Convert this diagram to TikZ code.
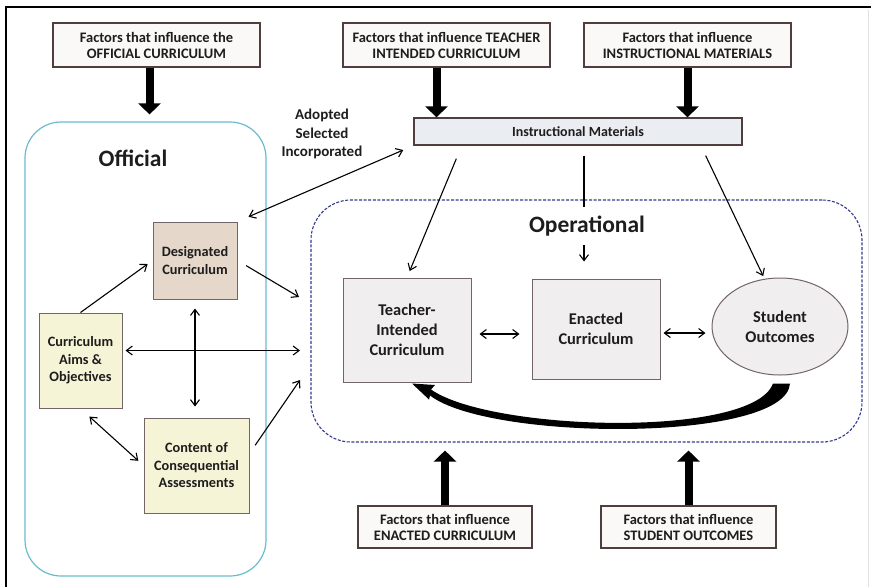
\documentclass[tikz,border=0pt]{standalone}
\usepackage{fontspec}
\setmainfont{Carlito}
\usetikzlibrary{arrows.meta,shapes.geometric,calc}
\definecolor{boxline}{RGB}{80,62,62}
\definecolor{tealline}{RGB}{105,188,204}
\definecolor{navydash}{RGB}{50,58,140}
\definecolor{desigfill}{RGB}{229,216,203}
\definecolor{aimsfill}{RGB}{246,244,215}
\definecolor{opfill}{RGB}{240,238,238}
\definecolor{imfill}{RGB}{234,238,242}
\definecolor{factorfill}{RGB}{250,249,247}
\definecolor{inktext}{RGB}{30,28,28}
\tikzset{
    factorbox/.style={draw=boxline, fill=factorfill, line width=1.3pt, align=center,
        font=\bfseries\fontsize{14.5}{16}\selectfont, inner sep=0pt, minimum height=44pt},
    offbox/.style={draw=boxline!80, line width=1pt, align=center, inner sep=0pt,
        font=\bfseries\fontsize{14.3}{17.5}\selectfont},
    opbox/.style={draw=boxline!80, fill=opfill, line width=1pt, align=center, inner sep=0pt,
        font=\bfseries\fontsize{16.4}{20}\selectfont},
    titletext/.style={font=\bfseries\fontsize{23.5}{26}\selectfont, inner sep=0pt},
    bigarrow/.style={-{Triangle[length=11pt,width=22pt]}, line width=8pt},
    thinarrow/.style={-{Straight Barb[length=6pt,width=9pt]}, line width=1.1pt},
    thinboth/.style={{Straight Barb[length=6pt,width=9pt]}-{Straight Barb[length=6pt,width=9pt]}, line width=1.1pt}
}
\begin{document}
\begin{tikzpicture}[x=1pt, y=-1pt, text=inktext]
\useasboundingbox (0,0) rectangle (871,587);
% frame of the figure
\draw[line width=2pt] (6,587) -- (6,7) -- (871,7);
\draw[black!12, line width=1pt] (868,10) -- (868,587);

% the two regions
\node[draw=tealline, line width=1.2pt, rounded corners=36pt,
    minimum width=241pt, minimum height=454pt] (official) at (145.5,349) {};
\node[draw=navydash, line width=1.1pt, dash pattern=on 3pt off 1.6pt, rounded corners=40pt,
    minimum width=551pt, minimum height=242pt] (oper) at (586.5,321) {};
\node[titletext] (offtitle) at (133,158) {Official};

% factor boxes
\node[factorbox, minimum width=207pt] (f1) at (156.5,45) {Factors that influence the\\OFFICIAL CURRICULUM};
\node[factorbox, minimum width=207pt] (f2) at (446.5,45) {Factors that influence TEACHER\\INTENDED CURRICULUM};
\node[factorbox, minimum width=207pt] (f3) at (687.5,45) {Factors that influence\\INSTRUCTIONAL MATERIALS};
\node[factorbox, minimum width=174pt, minimum height=42pt] (f4) at (445,527) {Factors that influence\\ENACTED CURRICULUM};
\node[factorbox, minimum width=175pt, minimum height=42pt] (f5) at (688.5,527) {Factors that influence\\STUDENT OUTCOMES};

% instructional materials
\node[factorbox, fill=imfill, minimum width=328pt, minimum height=27pt,
    font=\bfseries\fontsize{14}{16}\selectfont] (im) at (578,131.5) {Instructional Materials};
\node[align=center, font=\bfseries\fontsize{15}{18.5}\selectfont] (adopt) at (322,134) {Adopted\\Selected\\Incorporated};

% official parts
\node[offbox, fill=desigfill, minimum width=84pt, minimum height=77pt] (desig) at (195,260.5) {Designated\\Curriculum};
\node[offbox, fill=aimsfill, minimum width=83pt, minimum height=95pt] (aims) at (80.5,360.5) {Curriculum\\Aims \&\\Objectives};
\node[offbox, fill=aimsfill, minimum width=105pt, minimum height=95pt] (content) at (196.5,465.5) {Content of\\Consequential\\Assessments};

% operational parts
\node[opbox, minimum width=128pt, minimum height=104pt] (teacher) at (407,330) {Teacher-\\Intended\\Curriculum};
\node[opbox, minimum width=128pt, minimum height=100pt] (enacted) at (596,329) {Enacted\\Curriculum};
\node[opbox, ellipse, minimum width=136pt, minimum height=97pt] (student) at (780,326.5) {Student\\Outcomes};

% coordinates on the operational border
\coordinate (opin1) at (299,297);
\coordinate (opin2) at (300,350.5);
\coordinate (opin3) at (300,380);
\coordinate (f1out) at ([xshift=-7pt]f1.south);
\coordinate (f2out) at ([xshift=-10pt]f2.south);
\coordinate (imb) at ($(im.south)+(6,10)$);

% heavy influence arrows
\draw[bigarrow, shorten >=7pt] (f1out) -- (f1out |- official.north);
\draw[bigarrow] (f2out) -- (f2out |- im.north);
\draw[bigarrow] (f3.south) -- (f3.south |- im.north);
\draw[bigarrow, shorten >=8pt] (f4.north) -- (f4.north |- oper.south);
\draw[bigarrow, shorten >=8pt] (f5.north) -- (f5.north |- oper.south);

% thin arrows, official side
\draw[thinboth, shorten <=12pt, shorten >=11pt] (desig.north east) -- (im.south west);
\draw[thinarrow, shorten >=6pt] (aims.north) -- (desig.west);
\draw[thinarrow, shorten <=10pt] (desig.east) -- (opin1);
\draw[thinboth, shorten <=3pt] ([yshift=10pt]aims.east) -- (opin2);
\draw[thinboth, shorten <=9pt, shorten >=11pt] (desig.south) -- (desig.south |- content.north);
\draw[thinboth, shorten <=12pt, shorten >=7pt] (aims.south) -- (content.west);
\draw[thinarrow, shorten <=10pt] ([yshift=12pt]content.east) -- (opin3);

% thin arrows, operational side
\draw[thinarrow, shorten >=7pt] ($(im.south west)+(43,13)$) -- (teacher.north);
\draw[thinarrow, shorten >=17pt] (imb) -- (imb |- enacted.north);
\draw[thinarrow, shorten >=3pt] ($(im.south east)+(-37,10)$) -- (student.108);
\draw[thinboth, shorten <=8pt, shorten >=12pt] ([yshift=-4pt]teacher.east) -- ([yshift=-4pt]teacher.east -| enacted.west);
\draw[thinboth, shorten <=3pt, shorten >=6pt] ([yshift=-4pt]enacted.east) -- ([yshift=-4pt]enacted.east -| student.west);
\node[titletext, fill=white, minimum height=38pt] (optitle) at (587,226) {Operational};

% feedback swoosh from outcomes back to teacher
\fill ($(student.south)+(-7,8)$) -- ($(student.south)+(10,8)$)
    .. controls +(-4,59) and +(60,46) .. ($(teacher.south)+(23,13)$)
    -- ($(teacher.south)+(22,17)$) -- ($(teacher.south)+(5,1)$)
    -- ($(teacher.south)+(28,2.5)$) -- ($(teacher.south)+(24,7)$)
    .. controls +(60,42) and +(-20,55) .. ($(student.south)+(-7,8)$) -- cycle;
\end{tikzpicture}
\end{document}
